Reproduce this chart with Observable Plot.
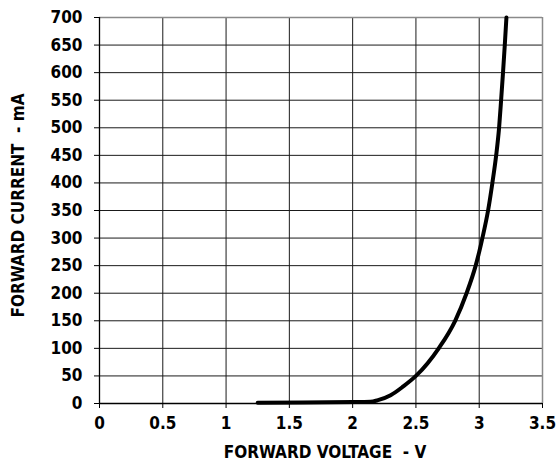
<!DOCTYPE html>
<html>
<head>
<meta charset="utf-8">
<script src="https://cdn.jsdelivr.net/npm/d3@7"></script>
<script src="https://cdn.jsdelivr.net/npm/@observablehq/plot@0.6"></script>
<style>
  html, body { margin: 0; padding: 0; background: #fff; }
</style>
</head>
<body>
<div id="chart"></div>
<script>
// Forward current vs forward voltage (I–V curve)
const voltage = [1.25, 1.6, 2.0, 2.14, 2.2, 2.3, 2.4, 2.5, 2.68, 2.81, 2.9, 2.972, 3.0, 3.025, 3.07, 3.104, 3.134, 3.157, 3.173, 3.188, 3.202, 3.215];
const current = [1.5, 2, 2.5, 3, 6, 15, 31, 50, 100, 150, 200, 250, 275, 300, 350, 400, 450, 500, 550, 600, 650, 700];

const xTicks = [0, 0.5, 1, 1.5, 2, 2.5, 3, 3.5];
const yTicks = [0, 50, 100, 150, 200, 250, 300, 350, 400, 450, 500, 550, 600, 650, 700];

const xLabel = "FORWARD VOLTAGE  - V";
const yLabel = "FORWARD CURRENT  - mA";

const curve = voltage.map((v, i) => ({v, i: current[i]}));

const font = "'Liberation Sans Narrow', 'Arial Narrow', 'DejaVu Sans Condensed', sans-serif";
const size = 17;

const chart = Plot.plot({
  width: 557,
  height: 463,
  marginLeft: 99,
  marginRight: 15,
  marginTop: 17,
  marginBottom: 60,
  style: {fontFamily: font, fontWeight: "bold", fontSize: `${size}px`, color: "#000", background: "#fff"},
  x: {domain: [0, 3.5]},
  y: {domain: [0, 700]},
  marks: [
    Plot.gridX(xTicks.slice(1, -1), {stroke: "#1a1a1a", strokeOpacity: 1, strokeWidth: 1}),
    Plot.gridY(yTicks.slice(1, -1), {stroke: "#1a1a1a", strokeOpacity: 1, strokeWidth: 1}),
    Plot.ruleX([3.5], {stroke: "#8a8a8a", strokeWidth: 1.5}),
    Plot.ruleY([700], {stroke: "#8a8a8a", strokeWidth: 1.5}),
    Plot.ruleX([0], {stroke: "#000", strokeWidth: 1.3}),
    Plot.ruleY([0], {stroke: "#000", strokeWidth: 1.3}),
    Plot.axisX(xTicks, {
      tickSize: 5, tickPadding: 8, tickFormat: d => String(d),
      fontSize: size, fontWeight: "bold", label: null, stroke: "#000"
    }),
    Plot.axisY(yTicks, {
      tickSize: 5, tickPadding: 12, tickFormat: d => String(d),
      fontSize: size, fontWeight: "bold", label: null, stroke: "#000"
    }),
    Plot.line(curve, {x: "v", y: "i", stroke: "#000", strokeWidth: 4, curve: "monotone-x"}),
    Plot.text([xLabel], {
      frameAnchor: "bottom", lineAnchor: "bottom", dx: 4, dy: 54,
      fontSize: size, fontWeight: "bold", fill: "#000"
    }),
    Plot.text([yLabel], {
      frameAnchor: "left", rotate: -90, lineAnchor: "middle", textAnchor: "middle",
      dx: -81, dy: -5, fontSize: size, fontWeight: "bold", fill: "#000"
    })
  ]
});

document.getElementById("chart").appendChild(chart);
</script>
</body>
</html>
